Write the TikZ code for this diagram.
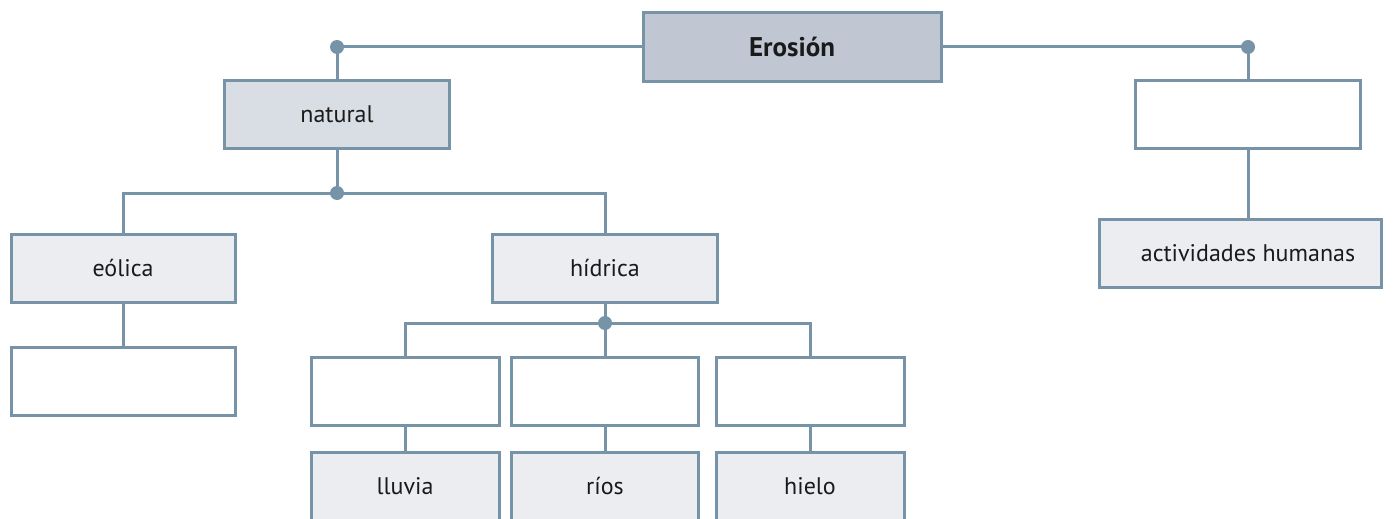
\documentclass[tikz,border=0pt]{standalone}
\usepackage{fontspec}
\setmainfont{PT Sans}
\definecolor{edge}{HTML}{7793A8}
\definecolor{fillA}{HTML}{C0C7D2}
\definecolor{fillB}{HTML}{D9DDE4}
\definecolor{fillC}{HTML}{EBEDF1}
\definecolor{txt}{HTML}{1A1A1A}
\tikzset{
  box/.style={draw=edge, line width=3pt, rectangle, minimum height=68pt, inner sep=0pt, text=txt, font=\fontsize{24}{26}\selectfont},
  topbox/.style={box, fill=fillA, font=\fontsize{27}{29}\selectfont\bfseries},
  midbox/.style={box, fill=fillB},
  lightbox/.style={box, fill=fillC},
  emptybox/.style={box, fill=white},
  conn/.style={draw=edge, line width=3pt},
  jdot/.style={circle, fill=edge, inner sep=0pt, minimum size=14pt},
}
\begin{document}
\begin{tikzpicture}[x=1pt, y=-1pt]
\useasboundingbox (0,0) rectangle (1394,519);
\clip (0,0) rectangle (1394,519);
\fill[white] (0,0) rectangle (1394,519);
% nodes
\node[topbox, minimum width=298pt] (ero) at (792,47) {Erosión};
\node[midbox, minimum width=225pt] (nat) at (337,114) {natural};
\node[lightbox, minimum width=224pt] (eol) at (123,268) {eólica};
\node[lightbox, minimum width=225pt] (hid) at (605,268) {hídrica};
\node[emptybox, minimum width=224pt] (eol1) at (123,381) {};
\node[emptybox, minimum width=188pt] (h1) at (405,391) {};
\node[emptybox, minimum width=187pt] (h2) at (605,391) {};
\node[emptybox, minimum width=188pt] (h3) at (810,391) {};
\node[lightbox, minimum width=188pt] (llu) at (405,486) {lluvia};
\node[lightbox, minimum width=187pt] (rio) at (605,486) {ríos};
\node[lightbox, minimum width=188pt] (hie) at (810,486) {hielo};
\node[emptybox, minimum width=225pt] (r1) at (1248,114.5) {};
\node[lightbox, minimum width=282pt] (act) at (1240,253) {\hspace*{16pt}actividades humanas};
% junction coordinates
\coordinate (jl) at (nat.north |- ero.west);
\coordinate (jr) at (r1.north |- ero.east);
\coordinate (jn) at (337,193);
\coordinate (jh) at (605,323);
% connectors
\draw[conn] (ero.west) -| (nat.north);
\draw[conn] (ero.east) -| (r1.north);
\draw[conn] (r1.south) -- (r1.south |- act.north);
\draw[conn] (nat.south) -- (jn);
\draw[conn] (eol.north) |- (jn) -| (hid.north);
\draw[conn] (eol.south) -- (eol1.north);
\draw[conn] (hid.south) -- (jh);
\draw[conn] (h1.north) |- (jh) -| (h3.north);
\draw[conn] (jh) -- (h2.north);
\draw[conn] (h1.south) -- (llu.north);
\draw[conn] (h2.south) -- (rio.north);
\draw[conn] (h3.south) -- (hie.north);
\node[jdot] at (jl) {};
\node[jdot] at (jr) {};
\node[jdot] at (jn) {};
\node[jdot] at (jh) {};
\end{tikzpicture}
\end{document}
